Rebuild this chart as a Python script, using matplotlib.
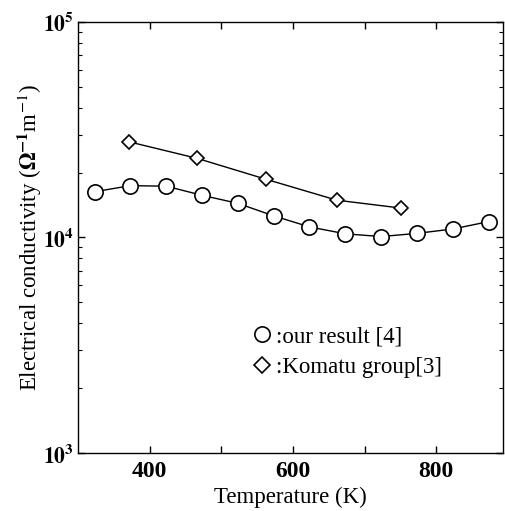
# electrical conductivity vs temperature (log scale)
from matplotlib import pyplot as plt
from matplotlib.lines import Line2D
from matplotlib.ticker import LogLocator, NullFormatter, FixedLocator

plt.rcParams['font.family'] = ['Liberation Serif', 'DejaVu Serif']
plt.rcParams['mathtext.fontset'] = 'stix'

# data
temp_ours = [323, 373, 423, 473, 523, 573, 623, 673, 723, 773, 823, 873]
cond_ours = [16300, 17400, 17300, 15700, 14400, 12600, 11200, 10400, 10100, 10450, 10950, 11850]

temp_komatu = [371, 466, 563, 661, 750]
cond_komatu = [27800, 23300, 18600, 14900, 13700]

xticks = [400, 500, 600, 700, 800]
xtick_labels = ["400", "", "600", "", "800"]

fig = plt.figure(figsize=(5.05, 5.11), dpi=100)
ax = fig.add_axes([0.1545, 0.1135, 0.8415, 0.8435])

ax.plot(temp_ours, cond_ours, color="black", lw=1.0, marker="o", ms=11,
        mfc="white", mec="black", mew=1.2)
ax.plot(temp_komatu, cond_komatu, color="black", lw=1.0, marker="D", ms=7.6,
        mfc="white", mec="black", mew=1.2)

ax.set_yscale("log")
ax.set_xlim(300, 893)
ax.set_ylim(1e3, 1e5)

ax.xaxis.set_major_locator(FixedLocator(xticks))
ax.set_xticklabels(xtick_labels, fontweight="bold")
ax.yaxis.set_major_locator(FixedLocator([1e3, 1e4, 1e5]))
ax.yaxis.set_minor_locator(LogLocator(base=10, subs=range(2, 10)))
ax.yaxis.set_minor_formatter(NullFormatter())
ax.set_yticklabels([r"$\mathbf{10^3}$", r"$\mathbf{10^4}$", r"$\mathbf{10^5}$"])

ax.tick_params(which="both", direction="in", top=True, right=True)
ax.tick_params(which="major", length=5, width=1)
ax.tick_params(which="minor", length=3, width=0.8)
ax.tick_params(axis="x", pad=6, labelsize=17)
ax.tick_params(axis="y", pad=3, labelsize=15.5)
for s in ax.spines.values():
    s.set_linewidth(1.0)

ax.set_xlabel("Temperature (K)", fontsize=16.5, labelpad=3)
ax.set_ylabel(r"Electrical conductivity ($\mathbf{\Omega}^{\mathbf{-1}}$m$^{-1}$)", fontsize=16.5, labelpad=-1)

# legend
handles = [Line2D([], [], ls="none", marker="o", ms=11, mfc="white", mec="black", mew=1.2),
           Line2D([], [], ls="none", marker="D", ms=8, mfc="white", mec="black", mew=1.2)]
ax.legend(handles, [":our result [4]", ":Komatu group[3]"], loc="upper left",
          bbox_to_anchor=(0.385, 0.315), frameon=False, fontsize=16.5,
          handlelength=1.0, handletextpad=0.1, labelspacing=0.4, borderaxespad=0)

plt.savefig("out.png", dpi=100)
